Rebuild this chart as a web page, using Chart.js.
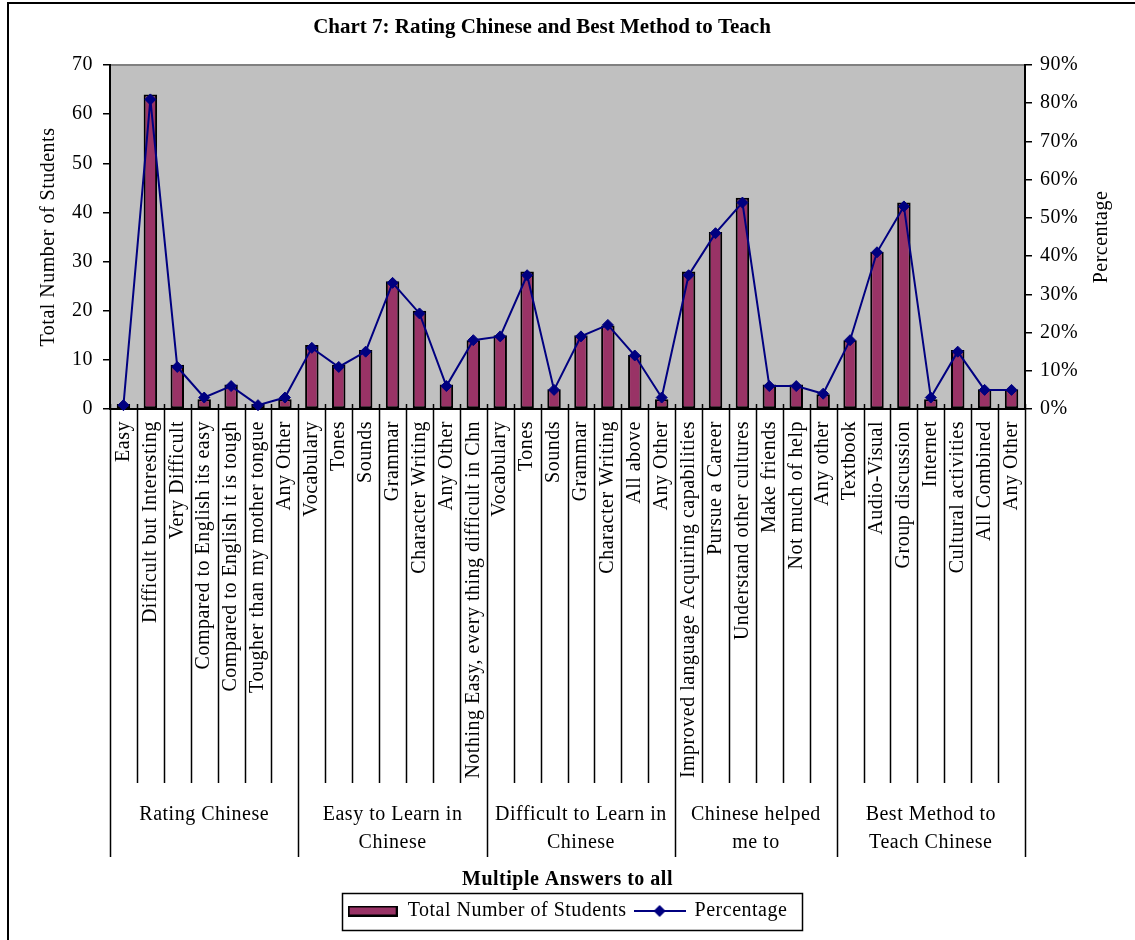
<!DOCTYPE html>
<html lang="en">
<head>
<meta charset="UTF-8">
<title>Chart 7</title>
<script src="https://cdn.jsdelivr.net/npm/chart.js@4.4.1/dist/chart.umd.min.js"></script>
<style>
  html, body { margin: 0; padding: 0; background: #fff; }
  canvas { display: block; }
</style>
</head>
<body>
<canvas id="myChart" width="1135" height="940"></canvas>
<script>
// categories, grouped the way the chart groups them
const categories = [
  'Easy', 'Difficult but Interesting', 'Very Difficult', 'Compared to English its easy',
  'Compared to English it is tough', 'Tougher than my mother tongue', 'Any Other',
  'Vocabulary', 'Tones', 'Sounds', 'Grammar', 'Character Writing', 'Any Other',
  'Nothing Easy, every thing difficult in Chn',
  'Vocabulary', 'Tones', 'Sounds', 'Grammar', 'Character Writing', 'All above', 'Any Other',
  'Improved language Acquiring capabilities', 'Pursue a Career', 'Understand other cultures',
  'Make friends', 'Not much of help', 'Any other',
  'Textbook', 'Audio-Visual', 'Group discussion', 'Internet', 'Cultural activities',
  'All Combined', 'Any Other'
];
const groupNames = [
  ['Rating Chinese'],
  ['Easy to Learn in', 'Chinese'],
  ['Difficult to Learn in', 'Chinese'],
  ['Chinese helped', 'me to'],
  ['Best Method to', 'Teach Chinese']
];
const groupSizes = [7, 7, 7, 6, 7];

const students = [1, 64, 9, 2, 5, 1, 2,
                  13, 9, 12, 26, 20, 5, 14,
                  15, 28, 4, 15, 17, 11, 2,
                  28, 36, 43, 5, 5, 3,
                  14, 32, 42, 2, 12, 4, 4];
const percentage = [1, 81, 11, 3, 6, 1, 3,
                    16, 11, 15, 33, 25, 6, 18,
                    19, 35, 5, 19, 22, 14, 3,
                    35, 46, 54, 6, 6, 4,
                    18, 41, 53, 3, 15, 5, 5];

const leftTicks = { min: 0, max: 70, step: 10 };
const rightTicks = { min: 0, max: 90, step: 10 };

const BAR = '#993366';
const LINE = '#000080';
const FONT = 'Liberation Serif';

Chart.defaults.font.family = FONT;
Chart.defaults.font.size = 20;
Chart.defaults.color = '#000';

// legend icons
function barIcon() {
  const c = document.createElement('canvas');
  c.width = 50; c.height = 11;
  const g = c.getContext('2d');
  g.fillStyle = BAR;
  g.fillRect(0, 0, 50, 11);
  g.strokeStyle = '#000';
  g.lineWidth = 2;
  g.strokeRect(1, 1, 48, 9);
  return c;
}
function lineIcon() {
  const c = document.createElement('canvas');
  c.width = 52; c.height = 14;
  const g = c.getContext('2d');
  g.strokeStyle = LINE;
  g.lineWidth = 2;
  g.beginPath(); g.moveTo(0, 7); g.lineTo(52, 7); g.stroke();
  g.fillStyle = LINE;
  g.beginPath(); g.moveTo(26, 1); g.lineTo(32, 7); g.lineTo(26, 13); g.lineTo(20, 7); g.closePath(); g.fill();
  return c;
}
const icons = [barIcon(), lineIcon()];

const decor = {
  id: 'decor',
  beforeLayout(chart) { chart.ctx.letterSpacing = '0.5px'; },
  beforeDraw(chart) {
    const ctx = chart.ctx, a = chart.chartArea;
    ctx.save();
    ctx.fillStyle = '#fff';
    ctx.fillRect(0, 0, chart.width, chart.height);
    ctx.fillStyle = '#c0c0c0';
    ctx.fillRect(a.left, a.top, a.right - a.left, a.bottom - a.top);
    ctx.strokeStyle = '#808080';
    ctx.lineWidth = 2;
    ctx.beginPath(); ctx.moveTo(a.left, a.top); ctx.lineTo(a.right, a.top); ctx.stroke();
    // outer frame (cut off on the right and bottom)
    ctx.strokeStyle = '#000';
    ctx.beginPath(); ctx.moveTo(8, chart.height); ctx.lineTo(8, 3); ctx.lineTo(chart.width, 3); ctx.stroke();
    // title
    ctx.letterSpacing = '0px';
    ctx.fillStyle = '#000';
    ctx.font = 'bold 21px ' + FONT;
    ctx.textAlign = 'center';
    ctx.textBaseline = 'middle';
    ctx.fillText('Chart 7: Rating Chinese and Best Method to Teach', 542, 28);
    ctx.restore();
    ctx.letterSpacing = '0.5px';
  },
  afterDraw(chart) {
    const ctx = chart.ctx, a = chart.chartArea, xs = chart.scales.x;
    const step = xs.getPixelForValue(1) - xs.getPixelForValue(0);
    const base = xs.getPixelForValue(0) - step / 2;
    const starts = [0];
    groupSizes.forEach(s => starts.push(starts[starts.length - 1] + s));
    ctx.save();
    ctx.strokeStyle = '#000';
    ctx.lineWidth = 1.5;
    for (let k = 0; k <= categories.length; k++) {
      const x = Math.round(base + k * step) + 0.5;
      const bottom = starts.includes(k) ? a.bottom + 448 : a.bottom + 374;
      ctx.beginPath(); ctx.moveTo(x, a.bottom - 5); ctx.lineTo(x, bottom); ctx.stroke();
    }
    ctx.fillStyle = '#000';
    ctx.font = '20px ' + FONT;
    ctx.textAlign = 'center';
    ctx.textBaseline = 'middle';
    groupNames.forEach((lines, g) => {
      const cx = base + (starts[g] + groupSizes[g] / 2) * step;
      lines.forEach((t, i) => ctx.fillText(t, cx, a.bottom + 406 + i * 28));
    });
    // right axis title, reading upwards
    ctx.save();
    ctx.translate(1102, (a.top + a.bottom) / 2);
    ctx.rotate(-Math.PI / 2);
    ctx.fillText('Percentage', 0, 0);
    ctx.restore();
    // legend frame
    const hb = chart.legend.legendHitBoxes;
    if (hb && hb.length) {
      const last = hb[hb.length - 1];
      const l = hb[0].left - 6, r = last.left + last.width + 14;
      const t = hb[0].top - 8;
      ctx.lineWidth = 1.5;
      ctx.strokeRect(Math.round(l) + 0.5, Math.round(t) + 0.5, Math.round(r - l), 37);
    }
    ctx.restore();
  }
};

new Chart(document.getElementById('myChart'), {
  data: {
    labels: categories,
    datasets: [{
      type: 'bar',
      label: 'Total Number of Students',
      data: students,
      yAxisID: 'y',
      backgroundColor: BAR,
      borderColor: '#000',
      borderWidth: 2,
      borderSkipped: false,
      categoryPercentage: 0.5,
      barPercentage: 1,
      order: 1
    }, {
      type: 'line',
      label: 'Percentage',
      data: percentage,
      yAxisID: 'y2',
      borderColor: LINE,
      backgroundColor: LINE,
      borderWidth: 2,
      pointStyle: 'rectRot',
      pointRadius: 5.5,
      pointBorderWidth: 1,
      pointBackgroundColor: LINE,
      pointBorderColor: LINE,
      tension: 0,
      clip: false,
      order: 0
    }]
  },
  options: {
    responsive: false,
    animation: false,
    layout: { padding: { top: 65, bottom: 9, left: 0, right: 0 } },
    plugins: {
      title: { display: false },
      tooltip: { enabled: false },
      legend: {
        position: 'bottom',
        labels: {
          usePointStyle: true,
          pointStyleWidth: 50,
          padding: 8,
          color: '#000',
          font: { size: 20, family: FONT },
          sort: (p, q) => p.datasetIndex - q.datasetIndex,
          generateLabels(chart) {
            const items = Chart.defaults.plugins.legend.labels.generateLabels(chart);
            items.forEach(it => { it.pointStyle = icons[it.datasetIndex]; });
            return items;
          }
        }
      }
    },
    scales: {
      x: {
        type: 'category',
        offset: true,
        grid: { display: false, drawTicks: false },
        border: { display: true, color: '#000', width: 2 },
        ticks: { autoSkip: false, minRotation: 90, maxRotation: 90, padding: 12, color: '#000', font: { size: 20 } },
        title: { display: true, text: 'Multiple Answers to all', color: '#000', font: { size: 20, weight: 'bold' }, padding: { top: 0, bottom: 1 } },
        afterFit(s) { s.height = 484; }
      },
      y: {
        position: 'left',
        min: leftTicks.min,
        max: leftTicks.max,
        ticks: { stepSize: leftTicks.step, padding: 10, color: '#000', font: { size: 20 } },
        grid: { drawOnChartArea: false, drawTicks: true, tickLength: 7, color: '#000', lineWidth: 1.5 },
        border: { display: true, color: '#000', width: 2 },
        title: { display: true, text: 'Total Number of Students', color: '#000', font: { size: 20 }, padding: { top: 37, bottom: 0 } },
        afterFit(s) { s.width = 110; }
      },
      y2: {
        position: 'right',
        min: rightTicks.min,
        max: rightTicks.max,
        ticks: { stepSize: rightTicks.step, padding: 8, color: '#000', font: { size: 20 }, callback: v => v + '%' },
        grid: { drawOnChartArea: false, drawTicks: true, tickLength: 7, color: '#000', lineWidth: 1.5 },
        border: { display: true, color: '#000', width: 2 },
        afterFit(s) { s.width = 110; }
      }
    }
  },
  plugins: [decor]
});
</script>
</body>
</html>
